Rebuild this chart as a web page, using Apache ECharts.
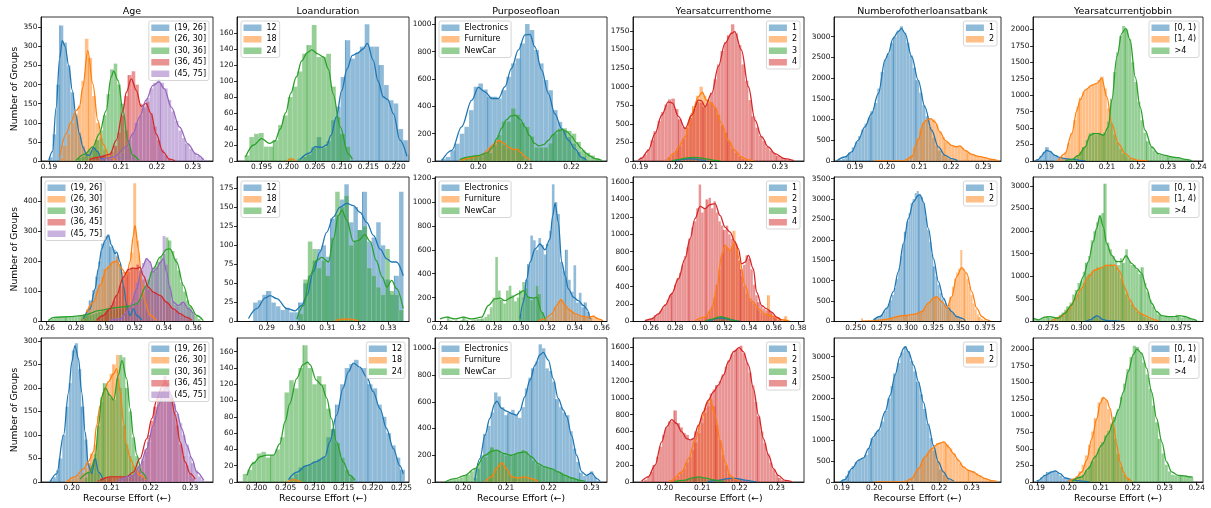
<!DOCTYPE html>
<html><head><meta charset="utf-8">
<script src="https://cdn.jsdelivr.net/npm/echarts@6/dist/echarts.min.js"></script>
<style>html,body{margin:0;padding:0;background:#fff}#chart{width:1211px;height:508px}</style>
</head><body><div id="chart"></div>
<script>
// ---------------- DATA ----------------
const columnTitles = ['Age','Loanduration','Purposeofloan','Yearsatcurrenthome','Numberofotherloansatbank','Yearsatcurrentjobbin'];
const groupLabels = [
  ['(19, 26]','(26, 30]','(30, 36]','(36, 45]','(45, 75]'],
  ['12','18','24'],
  ['Electronics','Furniture','NewCar'],
  ['1','2','3','4'],
  ['1','2'],
  ['[0, 1)','[1, 4)','>4']
];
const yAxisTitle = 'Number of Groups';
const xAxisTitle = 'Recourse Effort (\u2190)';
// histogram bin width per panel (row-major)
const binWidth = [0.001,0.0009,0.001,0.001,0.001,0.001, 0.002,0.0015,0.002,0.002,0.002,0.002, 0.0008,0.0008,0.0008,0.0008,0.001,0.001];
const xExtent = [[0.1878,0.2356],[0.1904,0.2226],[0.1907,0.2276],[0.1880,0.2369],[0.1835,0.2355],[0.1858,0.2415],
  [0.2561,0.3734],[0.2802,0.3368],[0.2363,0.3639],[0.2456,0.3846],[0.2290,0.3904],[0.2635,0.3916],
  [0.1922,0.2358],[0.1966,0.2263],[0.1934,0.2336],[0.1914,0.2373],[0.1876,0.2390],[0.1888,0.2420]];
const yMax = [377,180,1053,1938,3475,2187, 481,189.5,1210,1657,3540,3199, 306,176.8,1077,1711,3449,2166];
const xTicks = [
  ['0.19','0.20','0.21','0.22','0.23'],['0.195','0.200','0.205','0.210','0.215','0.220'],['0.20','0.21','0.22'],
  ['0.19','0.20','0.21','0.22','0.23'],['0.19','0.20','0.21','0.22','0.23'],['0.19','0.20','0.21','0.22','0.23','0.24'],
  ['0.26','0.28','0.30','0.32','0.34','0.36'],['0.29','0.30','0.31','0.32','0.33'],['0.24','0.26','0.28','0.30','0.32','0.34','0.36'],
  ['0.26','0.28','0.30','0.32','0.34','0.36','0.38'],['0.250','0.275','0.300','0.325','0.350','0.375'],['0.275','0.300','0.325','0.350','0.375'],
  ['0.20','0.21','0.22','0.23'],['0.200','0.205','0.210','0.215','0.220','0.225'],['0.20','0.21','0.22','0.23'],
  ['0.20','0.21','0.22','0.23'],['0.19','0.20','0.21','0.22','0.23'],['0.19','0.20','0.21','0.22','0.23','0.24']
];
const yTicks = [
  [0,50,100,150,200,250,300,350],[0,20,40,60,80,100,120,140,160],[0,200,400,600,800,1000],
  [0,250,500,750,1000,1250,1500,1750],[0,500,1000,1500,2000,2500,3000],[0,250,500,750,1000,1250,1500,1750,2000],
  [0,100,200,300,400],[0,25,50,75,100,125,150,175],[0,200,400,600,800,1000,1200],
  [0,200,400,600,800,1000,1200,1400,1600],[0,500,1000,1500,2000,2500,3000,3500],[0,500,1000,1500,2000,2500,3000],
  [0,50,100,150,200,250,300],[0,20,40,60,80,100,120,140,160],[0,200,400,600,800,1000],
  [0,200,400,600,800,1000,1200,1400,1600],[0,500,1000,1500,2000,2500,3000],[0,250,500,750,1000,1250,1500,1750,2000]
];

// Histograms: each group = [first bin left edge, counts...]; KDE: flat [x, y, x, y, ...]
// ----- Row 1 -----
const r1AgeHist = [
  [0.190, 10,70,200,355,310,250,180,120,75,40,20,12,35,25,8,2],
  [0.193, 8,40,70,100,125,145,210,320,270,170,100,60,30,12,4],
  [0.197, 3,8,12,20,28,38,55,80,120,175,240,255,200,150,80,35,12,4],
  [0.201, 5,8,10,12,15,18,25,40,75,120,170,225,235,200,150,140,155,125,90,55,30,15,6,2],
  [0.205, 3,5,8,10,15,22,35,55,75,100,120,145,165,190,205,215,205,190,160,130,105,80,60,45,32,22,14,8,3]
];
const r1AgeKde = [
  [0.1900,2, 0.1910,25, 0.1920,140, 0.1930,270, 0.1937,315, 0.1945,300, 0.1955,250, 0.1965,185, 0.1975,120, 0.1985,70, 0.1995,35, 0.2005,16, 0.2013,15, 0.2024,35, 0.2035,25, 0.2045,8, 0.2055,1],
  [0.1930,10, 0.1948,71, 0.1960,100, 0.1976,132, 0.1985,141, 0.1994,193, 0.2008,289, 0.2022,202, 0.2036,106, 0.2050,45, 0.2069,10, 0.2085,2],
  [0.1976,2, 0.2000,18, 0.2022,37, 0.2040,71, 0.2059,132, 0.2073,220, 0.2080,235, 0.2092,211, 0.2106,132, 0.2119,54, 0.2133,15, 0.2150,2],
  [0.2013,4, 0.2040,10, 0.2070,18, 0.2087,54, 0.2106,132, 0.2115,180, 0.2129,215, 0.2143,185, 0.2156,143, 0.2170,150, 0.2184,124, 0.2198,71, 0.2217,24, 0.2235,5, 0.2250,1],
  [0.2040,2, 0.2080,10, 0.2115,37, 0.2133,71, 0.2152,115, 0.2170,159, 0.2189,198, 0.2206,207, 0.2221,189, 0.2240,141, 0.2263,89, 0.2286,45, 0.2309,18, 0.2330,3]
];
const r1LoanHist = [
  [0.2017, 3,5,8,17,30,17,25,51,68,105,151,128,135,143,171,143,143,120,95,76,72,40,26,8],
  [0.1999, 3],
  [0.1918, 7,30,34,35,18,18,26,45,57,80,93,112,134,145,170,130,130,134,93,55,34,18]
];
const r1LoanKde = [
  [0.2022,2, 0.2040,10, 0.2050,18, 0.2062,17, 0.2072,20, 0.2080,32, 0.2090,55, 0.2100,88, 0.2110,115, 0.2120,132, 0.2130,135, 0.2140,140, 0.2148,147, 0.2159,126, 0.2168,100, 0.2178,80, 0.2186,77, 0.2197,59, 0.2209,26, 0.2222,6],
  [0.1998,0, 0.2006,3, 0.2014,0],
  [0.1920,5, 0.1935,20, 0.1950,28, 0.1965,22, 0.1975,25, 0.1985,40, 0.1995,60, 0.2005,85, 0.2015,105, 0.2025,125, 0.2035,135, 0.2044,139, 0.2055,134, 0.2066,130, 0.2075,115, 0.2084,84, 0.2097,43, 0.2112,9, 0.2120,2]
];
const r1PurposeHist = [
  [0.192, 17,30,78,127,200,250,372,543,567,523,470,470,457,518,616,714,750,860,1002,958,812,714,592,518,372,286,225,176,127,66,30],
  [0.196, 10,20,25,30,35,60,100,130,150,115,90,85,90,40,10],
  [0.196, 10,25,30,45,45,50,60,120,190,290,290,385,340,280,250,180,100,100,100,130,200,237,240,220,200,140,80,60,40,20,5]
];
const r1PurposeKde = [
  [0.1921,0, 0.1943,78, 0.1964,250, 0.1986,445, 0.2000,538, 0.2014,506, 0.2029,457, 0.2043,457, 0.2057,543, 0.2071,677, 0.2086,812, 0.2100,922, 0.2111,925, 0.2121,836, 0.2136,665, 0.2150,494, 0.2164,347, 0.2179,237, 0.2193,152, 0.2207,90, 0.2221,29, 0.2232,5],
  [0.1960,5, 0.1980,20, 0.2000,35, 0.2010,50, 0.2020,80, 0.2030,115, 0.2044,150, 0.2055,130, 0.2065,100, 0.2075,85, 0.2083,85, 0.2092,60, 0.2100,30, 0.2110,5],
  [0.1960,10, 0.1980,30, 0.2000,40, 0.2020,60, 0.2030,100, 0.2040,165, 0.2050,240, 0.2060,300, 0.2070,330, 0.2079,335, 0.2090,305, 0.2100,250, 0.2110,185, 0.2120,130, 0.2130,110, 0.2140,120, 0.2150,150, 0.2160,190, 0.2170,220, 0.2180,230, 0.2190,215, 0.2200,180, 0.2210,135, 0.2220,95, 0.2230,60, 0.2240,35, 0.2250,18, 0.2265,4]
];
const r1HomeHist = [
  [0.200, 5,12,22,30,32,28,20,12,5],
  [0.197, 20,50,90,140,200,300,450,600,740,880,1000,880,830,790,720,620,480,380,260,170,110,60,30,10],
  [0.199, 5,10,18,28,38,45,50,48,40,30,18,10,5],
  [0.190, 50,90,160,280,400,540,660,760,830,840,700,560,460,450,580,700,800,790,730,780,920,1100,1300,1480,1600,1690,1840,1720,1560,1300,1080,820,600,450,340,270,190,140,100,70,45,30,15,5]
];
const r1HomeKde = [
  [0.2000,3, 0.2020,20, 0.2040,30, 0.2055,28, 0.2070,15, 0.2090,3],
  [0.1980,20, 0.2000,110, 0.2010,189, 0.2029,324, 0.2048,639, 0.2067,864, 0.2078,925, 0.2090,819, 0.2100,790, 0.2114,729, 0.2133,504, 0.2152,279, 0.2171,144, 0.2190,54, 0.2210,15, 0.2225,3],
  [0.1990,3, 0.2010,18, 0.2030,38, 0.2055,50, 0.2075,42, 0.2095,25, 0.2115,8, 0.2130,2],
  [0.1895,10, 0.1905,40, 0.1924,144, 0.1943,369, 0.1962,616, 0.1981,796, 0.1993,780, 0.2010,600, 0.2029,436, 0.2048,616, 0.2067,819, 0.2076,810, 0.2086,729, 0.2105,909, 0.2124,1269, 0.2143,1584, 0.2162,1719, 0.2171,1741, 0.2190,1494, 0.2210,999, 0.2229,549, 0.2248,324, 0.2267,189, 0.2286,99, 0.2314,31, 0.2340,5]
];
const r1OtherHist = [
  [0.185, 20,60,120,200,330,460,600,760,900,1050,1200,1400,1750,2150,2450,2600,2850,3000,3150,3250,3100,2850,2550,2250,1950,1650,1350,1080,820,560,380,250,150,90,50,25,10],
  [0.196, 4,4,4,4,4,4,4,4,4, 20,60,150,330,560,780,930,1000,1030,1000,880,720,580,470,400,360,340,360,320,250,200,160,130,110,90,80,60,40,20,8]
];
const r1OtherKde = [
  [0.1843,0, 0.1869,97, 0.1890,218, 0.1910,500, 0.1931,823, 0.1952,1145, 0.1973,1629, 0.1994,2435, 0.2004,2597, 0.2019,2960, 0.2035,3121, 0.2045,3202, 0.2056,3081, 0.2077,2516, 0.2097,1952, 0.2118,1307, 0.2139,742, 0.2160,339, 0.2181,137, 0.2201,56, 0.2220,10],
  [0.1960,3, 0.2050,3, 0.2077,97, 0.2097,500, 0.2113,903, 0.2123,984, 0.2136,1024, 0.2149,944, 0.2165,702, 0.2181,500, 0.2201,379, 0.2217,339, 0.2227,363, 0.2243,258, 0.2264,161, 0.2285,113, 0.2305,81, 0.2326,40, 0.2345,10]
];
const r1JobHist = [
  [0.187, 25,80,140,210,150,100,80,55,40,30,25,30,25,15,8,3],
  [0.193, 10,30,70,140,270,430,620,830,960,1050,1100,1140,1160,1180,1230,1280,1100,800,580,400,280,180,110,70,40,20,10,5,4,3],
  [0.196, 5,10,20,45,80,140,210,320,420,430,400,430,400,430,600,950,1350,1650,1900,2050,2000,1850,1500,1200,900,620,430,300,220,160,120,95,85,75,65,55,55,45,35,25,15,6]
];
const r1JobKde = [
  [0.1865,3, 0.1875,20, 0.1885,70, 0.1895,130, 0.1902,160, 0.1912,150, 0.1930,86, 0.1945,55, 0.1963,36, 0.1980,28, 0.1995,22, 0.2010,10, 0.2030,2],
  [0.1941,5, 0.1963,112, 0.1985,416, 0.2002,772, 0.2012,924, 0.2029,1076, 0.2051,1152, 0.2067,1178, 0.2083,1254, 0.2100,975, 0.2116,569, 0.2138,264, 0.2160,112, 0.2182,36, 0.2205,8, 0.2235,2],
  [0.1963,3, 0.1985,20, 0.2007,86, 0.2029,213, 0.2045,391, 0.2056,416, 0.2072,416, 0.2089,391, 0.2105,518, 0.2116,924, 0.2133,1584, 0.2149,1939, 0.2162,2015, 0.2176,1838, 0.2193,1279, 0.2209,822, 0.2225,467, 0.2247,213, 0.2269,112, 0.2291,86, 0.2313,61, 0.2334,51, 0.2356,25, 0.2378,5]
];
// ----- Row 2 -----
const r2AgeHist = [
  [0.283, 8,20,40,70,105,150,200,260,285,290,250,240,220,190,120,60,30,35,45,25,10],
  [0.283, 15,25,40,55,70,100,125,150,175,185,195,200,215,190,165,150,165,230,460,270,150,80,35,15,5],
  [0.261, 5,10,12,14,15,15,15,15,16,16,17,18,18,20,22,25,28,32,35,37,39,40,41,42,43,45,47,49, 50,55,62,75,95,115,140,165,185,200,215,225,280,270,235,210,170,130,100,70,50,30,18,8],
  [0.293, 5,15,20,30,40,55,70,90,120,150,165,175,180,175,190,170,140,120,105,100,95,90,85,75,65,55,45,35,28,22,15,10,5],
  [0.303, 5,8,10,12,20,30,45,65,100,130,170,195,210,200,180,165,180,200,285,190,120,70,55,50,65,60,45,35,25]
];
const r2AgeKde = [
  [0.2850,9, 0.2895,42, 0.2930,109, 0.2952,176, 0.2975,242, 0.2998,270, 0.3020,287, 0.3043,253, 0.3066,226, 0.3077,231, 0.3100,198, 0.3123,120, 0.3145,53, 0.3168,20, 0.3191,42, 0.3214,20, 0.3248,5],
  [0.2873,31, 0.2918,64, 0.2964,120, 0.3009,176, 0.3055,198, 0.3077,201, 0.3111,176, 0.3145,153, 0.3168,198, 0.3191,287, 0.3202,320, 0.3225,242, 0.3248,131, 0.3270,64, 0.3305,20, 0.3350,3],
  [0.2610,3, 0.2650,14, 0.2750,16, 0.2850,20, 0.2964,37, 0.3055,45, 0.3150,50, 0.3214,59, 0.3282,120, 0.3327,176, 0.3373,214, 0.3418,240, 0.3441,242, 0.3486,198, 0.3532,120, 0.3577,53, 0.3623,20, 0.3668,3],
  [0.2941,5, 0.2986,20, 0.3032,42, 0.3077,87, 0.3123,148, 0.3157,173, 0.3191,178, 0.3214,176, 0.3236,181, 0.3259,153, 0.3293,114, 0.3327,98, 0.3373,87, 0.3418,64, 0.3464,42, 0.3509,26, 0.3555,14, 0.3590,4],
  [0.3030,4, 0.3100,9, 0.3168,42, 0.3214,109, 0.3248,176, 0.3282,209, 0.3305,198, 0.3327,164, 0.3350,176, 0.3377,198, 0.3395,209, 0.3418,164, 0.3441,109, 0.3464,64, 0.3498,53, 0.3532,64, 0.3566,42, 0.3600,26]
];
const r2LoanHist = [
  [0.2855, 25,28,35,40,25,20,15,18,12,12,25,50,60,80,95,100,85,135,140,160,180,130,150,120,170,105,110,130,100,55,35,60,170],
  [0.3125, 3,4,4,3,2],
  [0.3005, 10,55,105,95,70,80,60,110,170,150,165,100,105,120,125,70,60,45,35,95,40,35,15]
];
const r2LoanKde = [
  [0.2840,4, 0.2867,17, 0.2895,31, 0.2911,34, 0.2933,30, 0.2966,17, 0.2993,14, 0.3015,21, 0.3032,34, 0.3053,65, 0.3075,91, 0.3097,117, 0.3119,137, 0.3141,150, 0.3163,155, 0.3185,152, 0.3207,143, 0.3229,130, 0.3251,113, 0.3273,95, 0.3295,82, 0.3311,78, 0.3327,78, 0.3349,60],
  [0.3125,1, 0.3150,3, 0.3175,3, 0.3200,1],
  [0.2999,3, 0.3021,21, 0.3042,60, 0.3064,80, 0.3081,84, 0.3103,78, 0.3119,108, 0.3136,139, 0.3147,146, 0.3163,133, 0.3185,105, 0.3201,106, 0.3223,114, 0.3240,105, 0.3260,80, 0.3280,58, 0.3295,45, 0.3311,54, 0.3327,43, 0.3349,17]
];
const r2PurposeHist = [
  [0.299, 60,200,350,480,720,680,600,700,640,560,650,760,1150,1000,900,500,420,600,350,250,470,160,240,120,160,80,30],
  [0.317, 10,20,40,70,120,170,190,160,120,110,90,60,50,45,40,35,40,45,50,35,20,8],
  [0.245, 45,10,5,10,5,10,40,15,5,10,15,20,20,25,40,60,120,200,540,260,180,150,260,300,220,170,200,260,330,280,200,180,200,300,230,80,20]
];
const r2PurposeKde = [
  [0.2994,22, 0.3019,161, 0.3043,356, 0.3068,496, 0.3105,607, 0.3142,649, 0.3179,601, 0.3216,690, 0.3236,885, 0.3254,991, 0.3278,830, 0.3303,496, 0.3328,384, 0.3353,273, 0.3390,203, 0.3427,175, 0.3464,134, 0.3489,106, 0.3513,22],
  [0.3130,8, 0.3179,22, 0.3229,64, 0.3266,134, 0.3298,184, 0.3328,134, 0.3365,92, 0.3402,64, 0.3451,45, 0.3501,36, 0.3538,45, 0.3575,22, 0.3610,5],
  [0.2400,22, 0.2450,36, 0.2511,22, 0.2573,36, 0.2635,22, 0.2709,36, 0.2759,134, 0.2808,189, 0.2845,195, 0.2882,175, 0.2932,203, 0.2981,231, 0.3019,259, 0.3056,203, 0.3093,195, 0.3117,203, 0.3155,78, 0.3179,22]
];
const r2HomeHist = [
  [0.307, 10,20,30,38,40,38,35,30,25,18,12,8],
  [0.297, 10,20,35,50,80,120,180,280,420,600,780,880,850,820,860,1040,880,700,520,400,320,270,230,200,160,120,100,85,75,300,110,50,35,25,15,30,60,20],
  [0.305, 10,20,30,40,50,55,50,45,35,25,15,8],
  [0.255, 20,25,35,50,70,90,120,150,200,250,300,330,420,500,560,650,750,850,950,1080,1150,1300,1570,1250,1300,1400,1420,1300,1380,1250,1150,1100,1050,1100,1000,950,900,850,700,600,650,760,720,600,420,300,220,180,150,130,120,100,70,40,20,10]
];
const r2HomeKde = [
  [0.3060,3, 0.3100,20, 0.3140,38, 0.3170,40, 0.3210,33, 0.3250,22, 0.3300,8, 0.3330,2],
  [0.2960,11, 0.3041,50, 0.3096,145, 0.3136,375, 0.3177,758, 0.3204,873, 0.3245,815, 0.3285,919, 0.3326,681, 0.3367,413, 0.3407,260, 0.3434,222, 0.3475,145, 0.3529,88, 0.3570,69, 0.3610,50, 0.3660,20, 0.3720,8],
  [0.3040,3, 0.3100,28, 0.3150,50, 0.3170,55, 0.3220,38, 0.3270,12, 0.3310,2],
  [0.2554,11, 0.2608,31, 0.2662,88, 0.2716,184, 0.2771,318, 0.2825,490, 0.2879,720, 0.2920,949, 0.2960,1179, 0.3001,1320, 0.3041,1294, 0.3082,1340, 0.3123,1351, 0.3163,1217, 0.3204,1083, 0.3245,1026, 0.3285,911, 0.3312,835, 0.3339,662, 0.3367,681, 0.3394,758, 0.3434,605, 0.3461,337, 0.3502,184, 0.3543,145, 0.3583,107, 0.3624,50, 0.3660,15]
];
const r2OtherHist = [
  [0.263, 20,30,60,80,100,140,180,250,330,420,520,650,820,1050,1300,1600,1900,2200,2450,2650,2900,3000,3150,3200,3100,3050,2900,2550,2250,1950,1650,1350,1100,900,700,560,450,350,300,260,220,150,110,80,50,20],
  [0.255, 80,10,5,5,8,10,15,20,25,30,40,50,60,70,80,90,100,110,120,130,140,150,160,170,150,180,190,200,220,250,300,380,450,500,560,600,620,560,480,400,340,330,420,600,850,1050,1200,1300,1750,1300,1200,1050,850,650,450,300,180,110,70,35,15]
];
const r2OtherKde = [
  [0.2671,41, 0.2735,122, 0.2800,326, 0.2864,733, 0.2912,1221, 0.2961,1913, 0.3009,2523, 0.3057,2930, 0.3106,3093, 0.3120,3110, 0.3154,2930, 0.3202,2279, 0.3251,1547, 0.3299,977, 0.3347,570, 0.3396,326, 0.3428,244, 0.3476,122, 0.3524,81, 0.3560,20],
  [0.2560,10, 0.2650,15, 0.2750,40, 0.2977,147, 0.3073,179, 0.3138,244, 0.3202,448, 0.3251,570, 0.3283,610, 0.3331,488, 0.3380,326, 0.3428,610, 0.3476,1099, 0.3524,1319, 0.3573,1180, 0.3621,733, 0.3669,326, 0.3718,122, 0.3766,41, 0.3800,10]
];
const r2JobHist = [
  [0.303, 10,30,60,110,130,80,40,25,20,15,15,10,8],
  [0.275, 15,30,50,70,100,150,200,260,330,420,520,620,720,850,950,1050,1100,1150,1200,1180,1200,1250,1230,1280,1250,1200,1100,950,800,600,480,380,300,220,180,140,100,70,50,30,15],
  [0.263, 80,60,40,60,100,120,90,100,80,90,150,200,260,330,420,600,700,850,900,1100,1300,1450,1800,2000,2200,2350,2400,3050,1750,1600,1450,1350,1250,1400,1300,1600,1350,1250,1250,1150,1050,1200,850,650,480,330,230,160,130,110,120,100,120,90,150,110,90,130,80,60,40,30,15,8]
];
const r2JobKde = [
  [0.3030,5, 0.3070,40, 0.3100,100, 0.3114,130, 0.3130,110, 0.3160,45, 0.3200,20, 0.3250,12, 0.3300,3],
  [0.2775,15, 0.2850,110, 0.2901,257, 0.2951,478, 0.3001,735, 0.3052,993, 0.3102,1140, 0.3152,1191, 0.3190,1250, 0.3215,1235, 0.3253,1250, 0.3290,1103, 0.3328,735, 0.3366,478, 0.3403,294, 0.3441,184, 0.3479,132, 0.3516,74, 0.3554,37, 0.3580,10],
  [0.2637,74, 0.2675,37, 0.2725,96, 0.2760,110, 0.2825,74, 0.2876,184, 0.2926,368, 0.2976,699, 0.3014,993, 0.3052,1324, 0.3089,1765, 0.3114,2059, 0.3139,2338, 0.3165,2096, 0.3190,1728, 0.3227,1471, 0.3265,1324, 0.3303,1324, 0.3335,1456, 0.3378,1287, 0.3416,1176, 0.3454,1066, 0.3491,735, 0.3529,404, 0.3567,221, 0.3604,132, 0.3655,110, 0.3705,110, 0.3742,132, 0.3780,110, 0.3830,59, 0.3870,20]
];
// ----- Row 3 -----
const r3AgeHist = [
  [0.1944, 5,10,25,50,100,160,210,280,295,240,160,90,40,20,50,20,8],
  [0.1984, 3,5,8,10,15,20,30,40,60,80,140,170,200,210,230,250,270,200,120,80,55,35,25,15,8,4],
  [0.2032, 10,20,35,60,120,180,210,190,180,175,220,270,265,200,150,95,55,25,10,5],
  [0.2064, 5,8,10,10,10,10,10,10,10,10,12,15,20,30,45,70,100,130,160,185,200,225,210,180,150,120,80,55,35,18,8],
  [0.2120, 5,8,10,12,15,25,35,50,65,85,115,140,165,185,225,200,185,165,145,125,100,80,55,40,25,12,5]
];
const r3AgeKde = [
  [0.1945,0, 0.1962,18, 0.1979,99, 0.1992,191, 0.2000,255, 0.2008,290, 0.2017,262, 0.2025,191, 0.2034,106, 0.2042,35, 0.2051,18, 0.2059,50, 0.2068,21, 0.2080,4],
  [0.1987,0, 0.2008,11, 0.2030,28, 0.2042,43, 0.2055,64, 0.2063,121, 0.2072,163, 0.2080,191, 0.2093,213, 0.2106,230, 0.2114,241, 0.2123,191, 0.2131,128, 0.2139,78, 0.2148,50, 0.2161,28, 0.2173,14, 0.2190,4],
  [0.2021,6, 0.2046,21, 0.2059,50, 0.2068,121, 0.2076,181, 0.2085,200, 0.2097,184, 0.2106,174, 0.2118,227, 0.2127,258, 0.2139,220, 0.2148,156, 0.2156,99, 0.2165,57, 0.2177,21, 0.2190,6],
  [0.2072,4, 0.2097,11, 0.2139,11, 0.2156,21, 0.2173,50, 0.2190,92, 0.2203,135, 0.2216,177, 0.2228,202, 0.2237,214, 0.2249,191, 0.2262,142, 0.2275,85, 0.2287,43, 0.2300,18, 0.2313,6],
  [0.2114,1, 0.2156,14, 0.2173,35, 0.2190,71, 0.2207,121, 0.2220,163, 0.2232,191, 0.2241,202, 0.2254,181, 0.2266,149, 0.2279,113, 0.2292,78, 0.2304,50, 0.2317,21, 0.2334,4]
];
const r3LoanHist = [
  [0.2056, 5,10,18,20,22,25,28,30,55,65,95,120,140,145,150,140,140,120,115,95,80,60,45,30,15],
  [0.2056, 2,3,2],
  [0.1976, 10,15,25,35,37,30,33,40,55,110,125,115,140,168,140,120,130,120,90,65,48,30,15,6]
];
const r3LoanKde = [
  [0.2055,3, 0.2069,12, 0.2086,20, 0.2103,25, 0.2118,31, 0.2126,49, 0.2138,82, 0.2149,115, 0.2158,135, 0.2167,146, 0.2178,141, 0.2190,129, 0.2201,111, 0.2213,90, 0.2224,66, 0.2236,41, 0.2247,20, 0.2253,10],
  [0.2052,0, 0.2064,3, 0.2076,0],
  [0.1983,8, 0.1994,23, 0.2006,31, 0.2017,33, 0.2029,33, 0.2040,47, 0.2049,74, 0.2057,96, 0.2069,127, 0.2080,144, 0.2088,147, 0.2092,144, 0.2103,125, 0.2112,119, 0.2121,103, 0.2129,78, 0.2138,49, 0.2149,25, 0.2161,8, 0.2170,2]
];
const r3PurposeHist = [
  [0.2024, 30,100,200,360,420,520,670,640,560,500,520,540,500,480,560,700,780,850,900,1030,1000,850,830,750,620,560,520,500,380,250,150,70,45,50,80,40,10],
  [0.2056, 20,60,110,140,140,110,60,35,30,30,38,38,30,15,5],
  [0.1960, 8,14,20,25,35,45,55,80,100,140,170,190,220,260,240,235,210,200,205,195,210,225,240,230,195,160,140,125,115,110,100,90,80,70,55,45,35,25,15,8]
];
const r3PurposeKde = [
  [0.2027,12, 0.2039,175, 0.2051,350, 0.2062,475, 0.2074,588, 0.2078,605, 0.2090,550, 0.2101,530, 0.2113,512, 0.2125,500, 0.2132,530, 0.2144,638, 0.2156,763, 0.2168,875, 0.2179,950, 0.2187,970, 0.2199,912, 0.2210,775, 0.2222,625, 0.2234,538, 0.2242,488, 0.2253,350, 0.2265,200, 0.2277,75, 0.2288,50, 0.2300,68, 0.2312,25, 0.2320,5],
  [0.2050,3, 0.2066,38, 0.2078,100, 0.2090,145, 0.2101,100, 0.2113,38, 0.2129,30, 0.2144,38, 0.2160,25, 0.2175,5],
  [0.1957,0, 0.1981,25, 0.2004,50, 0.2027,100, 0.2051,200, 0.2066,230, 0.2078,238, 0.2094,213, 0.2113,200, 0.2132,220, 0.2144,225, 0.2160,188, 0.2175,138, 0.2191,113, 0.2206,100, 0.2222,75, 0.2238,50, 0.2253,30, 0.2273,12, 0.2285,5]
];
const r3HomeHist = [
  [0.2120, 8,12,20,28,35,40,45,48,45,40,32,25,18,12,8],
  [0.2016, 20,40,70,110,160,230,300,380,470,580,700,820,900,990,900,680,500,320,200,100,50,20],
  [0.2032, 10,15,25,35,45,55,60,55,45,35,25,18,12,8,5],
  [0.1936, 10,30,70,120,200,300,420,560,650,720,720,850,700,650,580,560,500,520,600,680,760,880,950,1050,1100,1150,1200,1280,1370,1450,1520,1560,1580,1620,1530,1420,1300,1150,950,780,600,460,340,230,150,90,50,25,12,5]
];
const r3HomeKde = [
  [0.2115,3, 0.2140,18, 0.2160,35, 0.2180,45, 0.2195,40, 0.2215,22, 0.2235,8, 0.2245,2],
  [0.2010,5, 0.2018,20, 0.2045,119, 0.2063,278, 0.2081,496, 0.2099,754, 0.2112,933, 0.2121,985, 0.2134,794, 0.2148,496, 0.2161,238, 0.2175,79, 0.2188,28, 0.2200,5],
  [0.2025,3, 0.2050,20, 0.2075,50, 0.2090,60, 0.2110,45, 0.2130,25, 0.2150,10, 0.2160,4],
  [0.1937,8, 0.1955,60, 0.1973,199, 0.1991,476, 0.2004,655, 0.2018,742, 0.2031,695, 0.2045,596, 0.2058,516, 0.2068,500, 0.2076,516, 0.2090,675, 0.2103,834, 0.2116,973, 0.2130,1072, 0.2143,1151, 0.2157,1270, 0.2170,1429, 0.2184,1548, 0.2199,1596, 0.2210,1548, 0.2224,1389, 0.2237,1112, 0.2251,794, 0.2264,516, 0.2278,318, 0.2291,159, 0.2304,79, 0.2322,20, 0.2340,5]
];
const r3OtherHist = [
  [0.189, 20,60,150,270,380,480,540,570,650,820,1050,1180,1250,1450,1700,2000,2300,2600,2850,3100,3250,3130,2900,2650,2400,2100,1750,1400,1050,750,500,300,180,90,40,15],
  [0.200, 4,4,4,4,4,4,4,4,4,15,40,100,200,330,450,580,700,790,870,930,950,960,900,800,690,560,450,370,300,260,250,210,160,110,70,40,20,8]
];
const r3OtherKde = [
  [0.1895,0, 0.1910,64, 0.1931,320, 0.1951,520, 0.1967,580, 0.1982,800, 0.1997,1080, 0.2013,1240, 0.2033,1680, 0.2049,2080, 0.2064,2560, 0.2079,3000, 0.2090,3200, 0.2096,3240, 0.2105,3120, 0.2121,2800, 0.2136,2400, 0.2151,1920, 0.2167,1360, 0.2182,880, 0.2197,480, 0.2213,240, 0.2228,80, 0.2245,20],
  [0.2000,3, 0.2090,5, 0.2095,16, 0.2115,80, 0.2136,320, 0.2156,600, 0.2177,800, 0.2197,920, 0.2215,960, 0.2228,840, 0.2244,680, 0.2259,520, 0.2274,360, 0.2290,280, 0.2305,240, 0.2321,160, 0.2341,80, 0.2362,32, 0.2377,16]
];
const r3JobHist = [
  [0.190, 30,70,110,150,160,170,140,100,60,45,40,30,20,10,5,3],
  [0.200, 15,40,90,160,260,400,560,760,960,1200,1270,1230,1100,900,650,420,230,110,50,20],
  [0.201, 20,40,70,110,170,240,310,400,500,600,700,770,870,980,1100,1280,1480,1700,1880,2050,2030,1950,1800,1620,1400,1150,900,650,430,260,160,110,100,90,95,85,80,60]
];
const r3JobKde = [
  [0.1900,10, 0.1905,25, 0.1926,100, 0.1947,151, 0.1957,166, 0.1973,126, 0.1989,60, 0.2009,40, 0.2030,20, 0.2050,8, 0.2065,2],
  [0.1999,10, 0.2020,50, 0.2041,151, 0.2056,327, 0.2072,653, 0.2088,955, 0.2098,1181, 0.2108,1271, 0.2119,1231, 0.2129,1106, 0.2140,854, 0.2150,553, 0.2160,302, 0.2171,151, 0.2181,60, 0.2195,15],
  [0.2009,10, 0.2041,75, 0.2061,201, 0.2082,377, 0.2103,553, 0.2124,729, 0.2140,905, 0.2155,1080, 0.2171,1357, 0.2186,1658, 0.2202,1920, 0.2213,2000, 0.2228,1935, 0.2244,1709, 0.2259,1357, 0.2275,955, 0.2291,603, 0.2306,302, 0.2322,151, 0.2343,100, 0.2364,90, 0.2384,75, 0.2388,70]
];

const panelHist = [r1AgeHist,r1LoanHist,r1PurposeHist,r1HomeHist,r1OtherHist,r1JobHist,
  r2AgeHist,r2LoanHist,r2PurposeHist,r2HomeHist,r2OtherHist,r2JobHist,
  r3AgeHist,r3LoanHist,r3PurposeHist,r3HomeHist,r3OtherHist,r3JobHist];
const panelKde = [r1AgeKde,r1LoanKde,r1PurposeKde,r1HomeKde,r1OtherKde,r1JobKde,
  r2AgeKde,r2LoanKde,r2PurposeKde,r2HomeKde,r2OtherKde,r2JobKde,
  r3AgeKde,r3LoanKde,r3PurposeKde,r3HomeKde,r3OtherKde,r3JobKde];

// ---------------- LAYOUT / STYLE ----------------
const colL = [41, 237, 435, 633, 834, 1033];
const colR = [213, 409, 607, 804, 1001, 1203];
const rowT = [17, 177, 338];
const rowB = [161, 321.5, 482];
const legendSide = ['r','l','l','r','r','r', 'l','l','l','r','r','r', 'r','r','l','r','r','r'];
const lineColors = ['#1f77b4','#ff7f0e','#2ca02c','#d62728','#9467bd'];
const edgeColors = ['rgba(31,119,180,0.75)','rgba(255,127,14,0.75)','rgba(44,160,44,0.75)','rgba(214,39,40,0.75)','rgba(148,103,189,0.75)'];
const fillColors = ['rgba(31,119,180,0.5)','rgba(255,127,14,0.5)','rgba(44,160,44,0.5)','rgba(214,39,40,0.5)','rgba(148,103,189,0.5)'];
const FONT = 'DejaVu Sans';
const W = 1211;

const grids = [], xAxes = [], yAxes = [], legends = [], series = [], titles = [];
const nameMap = {};

for (let c = 0; c < 6; c++) {
  titles.push({text: columnTitles[c], left: (colL[c] + colR[c]) / 2, top: 2, textAlign: 'center',
    textStyle: {fontFamily: FONT, fontSize: 9.5, fontWeight: 'normal', color: '#000'}});
}

for (let p = 0; p < 18; p++) {
  const r = Math.floor(p / 6), c = p % 6;
  grids.push({left: colL[c], top: rowT[r], width: colR[c] - colL[c], height: rowB[r] - rowT[r],
    show: true, borderColor: '#000', borderWidth: 0.8, backgroundColor: 'transparent', containLabel: false, outerBoundsMode: 'none'});
  const xt = xTicks[p];
  xAxes.push({type: 'value', gridIndex: p, min: xExtent[p][0], max: xExtent[p][1], z: 5,
    name: r === 2 ? xAxisTitle : '', nameLocation: 'middle', nameGap: 12,
    nameTextStyle: {fontFamily: FONT, fontSize: 9.2, color: '#000'},
    axisLine: {show: true, onZero: false, lineStyle: {color: '#000', width: 0.8}},
    axisTick: {show: true, length: 3, lineStyle: {color: '#000', width: 0.8}, customValues: xt.map(Number)},
    axisLabel: {show: true, margin: 3, fontFamily: FONT, fontSize: 7.4, color: '#111', customValues: xt.map(Number),
      formatter: v => { const s = xt.find(t => Math.abs(Number(t) - v) < 1e-9); return s !== undefined ? s : ''; }},
    splitLine: {show: false}});
  yAxes.push({type: 'value', gridIndex: p, min: 0, max: yMax[p], z: 5,
    name: c === 0 ? yAxisTitle : '', nameLocation: 'middle', nameGap: 16, nameRotate: 90,
    nameTextStyle: {fontFamily: FONT, fontSize: 9.2, color: '#000'},
    axisLine: {show: true, lineStyle: {color: '#000', width: 0.8}},
    axisTick: {show: true, length: 3, lineStyle: {color: '#000', width: 0.8}, customValues: yTicks[p]},
    axisLabel: {show: true, margin: 3.5, fontFamily: FONT, fontSize: 7.4, color: '#111', customValues: yTicks[p],
      formatter: v => String(Math.round(v))},
    splitLine: {show: false}});

  const labels = groupLabels[c];
  const w = binWidth[p];
  const legendNames = [];
  panelHist[p].forEach((g, gi) => {
    const name = 'p' + p + '_' + gi;
    nameMap[name] = labels[gi];
    legendNames.push(name);
    const x0 = g[0];
    const data = g.slice(1).map((v, i) => [x0 + i * w, x0 + (i + 1) * w, v]);
    const fill = fillColors[gi], edge = edgeColors[gi];
    series.push({type: 'custom', name: name, xAxisIndex: p, yAxisIndex: p, clip: true, z: 2,
      itemStyle: {color: fill}, encode: {x: [0, 1], y: 2}, data: data, silent: true,
      renderItem: (params, api) => {
        const a = api.coord([api.value(0), api.value(2)]);
        const b = api.coord([api.value(1), 0]);
        const children = [{type: 'rect', shape: {x: a[0], y: a[1], width: b[0] - a[0], height: b[1] - a[1]},
          style: {fill: fill, stroke: 'rgba(255,255,255,0.35)', lineWidth: 0.3}}];
        if ((params.dataIndex + gi * 2) % 7 === 3) {
          children.push({type: 'line', shape: {x1: a[0], y1: a[1], x2: a[0], y2: b[1]},
            style: {stroke: edge, lineWidth: 0.8}});
        }
        return {type: 'group', children: children};
      }});
  });
  panelKde[p].forEach((k, gi) => {
    const pts = [];
    for (let i = 0; i + 1 < k.length; i += 2) pts.push([k[i], k[i + 1]]);
    series.push({type: 'line', name: 'k' + p + '_' + gi, xAxisIndex: p, yAxisIndex: p, data: pts,
      smooth: 0.35, smoothMonotone: 'x', showSymbol: false, symbol: 'none', clip: true, z: 3, silent: true,
      lineStyle: {color: lineColors[gi], width: 1.3}, itemStyle: {color: lineColors[gi]}});
  });
  const lg = {data: legendNames, orient: 'vertical', top: rowT[r] + 4,
    icon: 'rect', itemWidth: 18, itemHeight: 6.5, itemGap: 2,
    backgroundColor: 'rgba(255,255,255,0.8)', borderColor: '#cccccc', borderWidth: 0.8, borderRadius: 2,
    padding: [2, 3, 2, 2.5], selectedMode: false,
    textStyle: {fontFamily: FONT, fontSize: 8, color: '#000', lineHeight: 9.5},
    formatter: n => nameMap[n]};
  if (legendSide[p] === 'r') lg.right = W - colR[c] + 4; else lg.left = colL[c] + 4;
  legends.push(lg);
}

const chart = echarts.init(document.getElementById('chart'), null, {renderer: 'canvas'});
chart.setOption({animation: false, backgroundColor: '#fff', textStyle: {fontFamily: FONT},
  title: titles, grid: grids, xAxis: xAxes, yAxis: yAxes, legend: legends, series: series});
</script></body></html>
